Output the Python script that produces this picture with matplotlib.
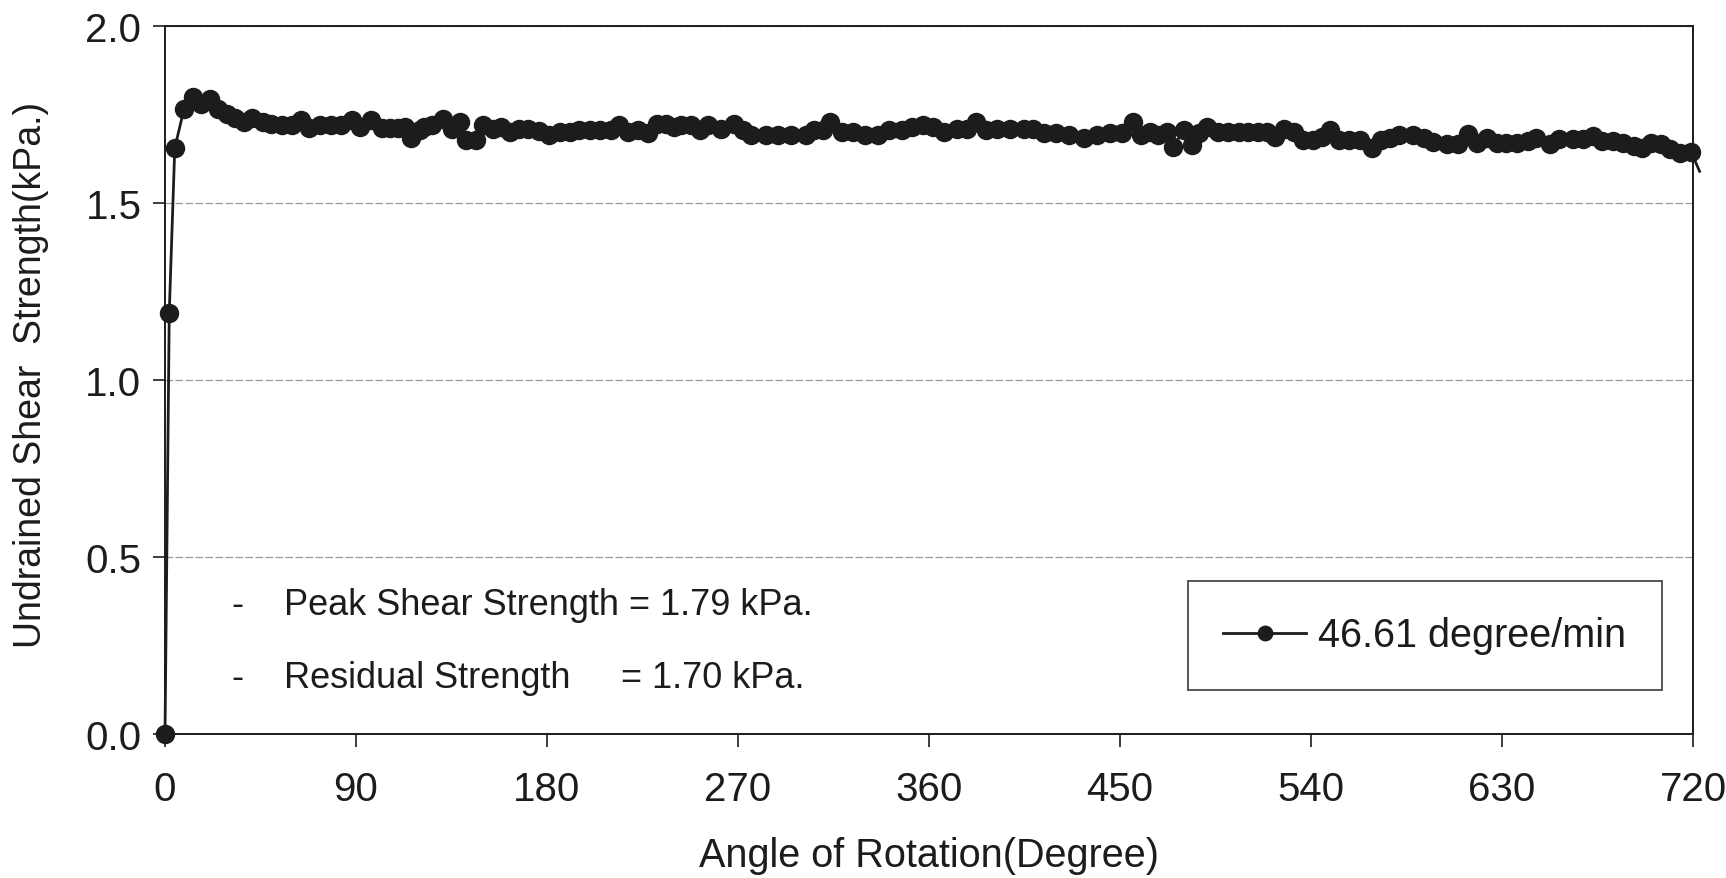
import matplotlib
matplotlib.use("Agg")
from matplotlib import pyplot as plt

# data
angle = [0, 2, 4.6, 9, 13, 17, 21, 25, 29, 33, 37, 41, 46, 50, 55, 60, 64, 68, 73, 78,
         83, 88, 92, 97, 102, 106, 110, 113, 116, 120, 122, 126, 131, 135, 139, 142, 146.6, 150, 154.6, 158.5,
         162.4, 167, 171, 176, 181, 186, 190.6, 195, 200, 205, 210, 214, 218, 223, 227.6, 231.6, 236, 240,
         243, 248, 252, 256, 262, 268, 272.5, 276.3, 283, 289, 295, 302, 306, 310, 313.5, 319, 324, 330,
         336, 341, 347, 352, 357, 362, 367, 373, 378, 382, 387, 392, 398, 404.6, 409, 414, 420, 426,
         433, 439, 445, 451, 456, 460, 464, 468, 472, 475, 480, 484, 487, 491, 496, 501, 506, 510.4,
         515, 519, 523, 527, 532, 536, 541, 545, 549, 553, 558, 563, 568.6, 573, 577, 581.5, 588, 593,
         597.6, 604, 609.4, 614, 618, 623, 627.6, 632, 637, 642, 646, 652.5, 657, 663.5, 668, 673, 677,
         682, 687, 692, 696, 700, 705, 709, 714, 719, 723]
strength = [0.0, 1.19, 1.656, 1.767, 1.80, 1.78, 1.795, 1.767, 1.753, 1.74, 1.73, 1.74, 1.73, 1.725,
            1.72, 1.72, 1.734, 1.712, 1.72, 1.72, 1.72, 1.734, 1.715, 1.734, 1.712, 1.712, 1.712, 1.715,
            1.683, 1.706, 1.715, 1.72, 1.739, 1.71, 1.73, 1.678, 1.678, 1.72, 1.71, 1.715, 1.70, 1.71,
            1.71, 1.704, 1.692, 1.70, 1.70, 1.706, 1.706, 1.706, 1.706, 1.72, 1.70, 1.706, 1.697, 1.725,
            1.725, 1.715, 1.72, 1.72, 1.706, 1.72, 1.71, 1.725, 1.706, 1.692, 1.692, 1.692, 1.692, 1.692,
            1.706, 1.706, 1.73, 1.70, 1.70, 1.692, 1.692, 1.706, 1.706, 1.715, 1.72, 1.714, 1.70, 1.71,
            1.71, 1.73, 1.706, 1.71, 1.71, 1.71, 1.71, 1.697, 1.697, 1.692, 1.683, 1.692, 1.697, 1.697,
            1.73, 1.692, 1.70, 1.692, 1.70, 1.66, 1.706, 1.664, 1.697, 1.715, 1.70, 1.70, 1.70, 1.70,
            1.70, 1.70, 1.687, 1.71, 1.70, 1.678, 1.678, 1.687, 1.706, 1.678, 1.678, 1.678, 1.655, 1.678,
            1.683, 1.692, 1.692, 1.683, 1.672, 1.667, 1.667, 1.695, 1.671, 1.685, 1.671, 1.671, 1.671,
            1.676, 1.685, 1.667, 1.68, 1.68, 1.68, 1.69, 1.676, 1.676, 1.671, 1.662, 1.657, 1.671, 1.667,
            1.652, 1.643, 1.645, 1.59]

series_label = "46.61 degree/min"
x_ticks = [0, 90, 180, 270, 360, 450, 540, 630, 720]
y_ticks = [0.0, 0.5, 1.0, 1.5, 2.0]

plt.rcParams["font.family"] = ["Liberation Sans", "DejaVu Sans"]
ink = "#1c1c1c"

fig = plt.figure(figsize=(17.26, 8.79), dpi=100)
ax = fig.add_axes([0.0956, 0.164, 0.8854, 0.805])

# no marker on the last (tail) point, as in the original
marks = list(range(len(angle) - 1))
ax.plot(angle, strength, color=ink, linewidth=2.0, marker="o", markersize=13,
        markevery=marks, clip_on=False, label=series_label, zorder=3)

ax.set_xlim(0, 720)
ax.set_ylim(0, 2.0)
ax.set_xticks(x_ticks)
ax.set_xticklabels([str(t) for t in x_ticks])
ax.set_yticks(y_ticks)
ax.set_yticklabels([f"{t:.1f}" for t in y_ticks])
ax.tick_params(axis="both", labelsize=29, direction="out", length=9, width=1.2, colors=ink)
ax.tick_params(axis="x", pad=17)
ax.tick_params(axis="y", pad=8)

ax.grid(True, axis="y", color="#9a9a9a", linewidth=0.9, linestyle=(0, (6, 2)))
ax.set_axisbelow(True)
for sp in ax.spines.values():
    sp.set_linewidth(1.4)
    sp.set_color(ink)

ax.set_xlabel("Angle of Rotation(Degree)", fontsize=28.5, color=ink, labelpad=20)
fig.text(0.018, 0.574, "Undrained Shear  Strength(kPa.)", rotation=90, fontsize=27,
         color=ink, ha="center", va="center")

ax.text(34, 0.365, "-", fontsize=26, color=ink, va="center", ha="center")
ax.text(56, 0.365, "Peak Shear Strength = 1.79 kPa.", fontsize=26, color=ink, va="center")
ax.text(34, 0.16, "-", fontsize=26, color=ink, va="center", ha="center")
ax.text(56, 0.16, "Residual Strength", fontsize=26, color=ink, va="center")
ax.text(215, 0.16, "= 1.70 kPa.", fontsize=26, color=ink, va="center")

leg = ax.legend(loc="center", bbox_to_anchor=(0.8255, 0.2759), bbox_transform=fig.transFigure,
                fontsize=28.5, frameon=True, fancybox=False, borderpad=0.9, handlelength=2.1,
                handletextpad=0.3, markerscale=0.8)
leg.get_frame().set_edgecolor(ink)
leg.get_frame().set_linewidth(1.3)
for t in leg.get_texts():
    t.set_color(ink)

fig.savefig("out.png", dpi=100, facecolor="white")
